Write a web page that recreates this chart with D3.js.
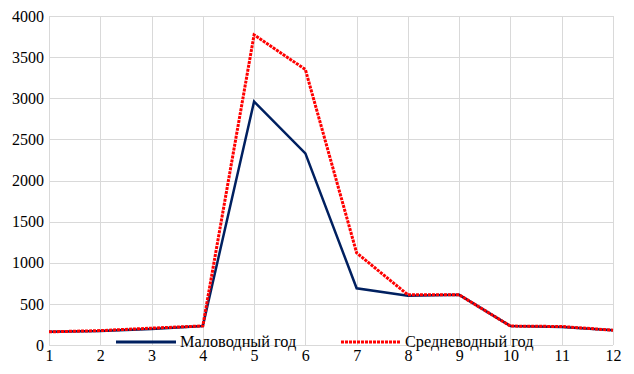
<!DOCTYPE html>
<html>
<head>
<meta charset="utf-8">
<script src="https://cdn.jsdelivr.net/npm/d3@7"></script>
<style>
  body { margin: 0; background: #fff; }
</style>
</head>
<body>
<div id="chart"></div>
<script>
const width = 634;
const height = 374;
const margin = { top: 16, right: 21, bottom: 29, left: 49 };
const serif = "'Liberation Serif', 'Times New Roman', serif";

// months 1..12
const months = [1, 2, 3, 4, 5, 6, 7, 8, 9, 10, 11, 12];
const lowWater = [160, 170, 195, 230, 2960, 2330, 690, 600, 610, 230, 220, 180];
const midWater = [160, 175, 205, 232, 3770, 3350, 1120, 610, 610, 230, 225, 180];
const yTicks = [0, 500, 1000, 1500, 2000, 2500, 3000, 3500, 4000];
const seriesNames = ["Маловодный год", "Средневодный год"];

const svg = d3.select("#chart")
    .append("svg")
    .attr("width", width)
    .attr("height", height);

let xScale = d3.scaleLinear()
    .domain([1, 12])
    .range([margin.left, width - margin.right]);
let yScale = d3.scaleLinear()
    .domain([0, 4000])
    .range([height - margin.bottom, margin.top]);

// grid
svg.append("g")
    .selectAll("line")
    .data(yTicks)
    .enter()
    .append("line")
    .attr("x1", margin.left)
    .attr("x2", width - margin.right)
    .attr("y1", d => Math.round(yScale(d)) + 0.5)
    .attr("y2", d => Math.round(yScale(d)) + 0.5)
    .attr("stroke", "#d9d9d9");
svg.append("g")
    .selectAll("line")
    .data(months)
    .enter()
    .append("line")
    .attr("x1", d => Math.round(xScale(d)) + 0.5)
    .attr("x2", d => Math.round(xScale(d)) + 0.5)
    .attr("y1", margin.top)
    .attr("y2", height - margin.bottom)
    .attr("stroke", "#d9d9d9");

// axes
let yAxis = d3.axisLeft(yScale).tickValues(yTicks).tickFormat(d3.format("d")).tickSize(0).tickPadding(5);
svg.append("g")
    .attr("transform", "translate(" + margin.left + ",0)")
    .call(yAxis)
    .call(g => g.select(".domain").remove())
    .selectAll("text")
    .style("font-size", "16px")
    .style("font-family", serif)
    .style("fill", "#000");

let xAxis = d3.axisBottom(xScale).tickValues(months).tickFormat(d3.format("d")).tickSize(0).tickPadding(5);
svg.append("g")
    .attr("transform", "translate(0," + (height - margin.bottom) + ")")
    .call(xAxis)
    .call(g => g.select(".domain").remove())
    .selectAll("text")
    .style("font-size", "16px")
    .style("font-family", serif)
    .style("fill", "#000");

// lines
const line = d3.line()
    .x((d, i) => xScale(months[i]))
    .y(d => yScale(d));

svg.append("path")
    .datum(lowWater)
    .attr("d", line)
    .attr("fill", "none")
    .attr("stroke", "#002060")
    .attr("stroke-width", 2.5);

svg.append("path")
    .datum(midWater)
    .attr("d", line)
    .attr("fill", "none")
    .attr("stroke", "#ff0000")
    .attr("stroke-width", 3)
    .attr("stroke-dasharray", "3 1");

// legend
const legendY = 342;
const legend = svg.append("g");
legend.append("line")
    .attr("x1", 116).attr("x2", 176)
    .attr("y1", legendY).attr("y2", legendY)
    .attr("stroke", "#002060")
    .attr("stroke-width", 3);
legend.append("text")
    .attr("x", 180)
    .attr("y", legendY + 5)
    .style("font-size", "16.3px")
    .style("font-family", serif)
    .text(seriesNames[0]);
legend.append("line")
    .attr("x1", 341).attr("x2", 400)
    .attr("y1", legendY).attr("y2", legendY)
    .attr("stroke", "#ff0000")
    .attr("stroke-width", 3)
    .attr("stroke-dasharray", "3 1");
legend.append("text")
    .attr("x", 405)
    .attr("y", legendY + 5)
    .style("font-size", "16.3px")
    .style("font-family", serif)
    .text(seriesNames[1]);
</script>
</body>
</html>
